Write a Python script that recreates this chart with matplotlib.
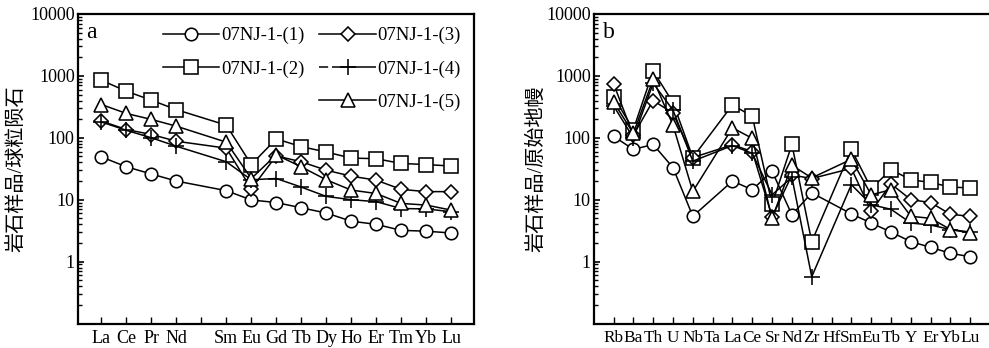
import matplotlib

matplotlib.use("Agg")
import matplotlib.pyplot as plt
from matplotlib.lines import Line2D
from matplotlib.ticker import LogLocator, NullFormatter, FixedLocator

# chondrite-normalised REE (panel a); Pm slot left empty
ree = ["La", "Ce", "Pr", "Nd", "", "Sm", "Eu", "Gd", "Tb", "Dy", "Ho", "Er", "Tm", "Yb", "Lu"]
ree_s1 = [49, 34, 26, 20, None, 14, 9.9, 9.0, 7.4, 6.1, 4.5, 4.0, 3.2, 3.1, 2.9]
ree_s2 = [850, 565, 405, 285, None, 160, 37, 96, 72, 59, 47, 46, 38.5, 37, 35]
ree_s3 = [186, 136, 113, 88, None, 68, 15, 51, 41, 30, 24, 20.7, 14.7, 13.5, 13.5]
ree_s4 = [180, 132, 100, 73, None, 41, 21, 22, 16, 11.3, 10, 9.3, 7.2, 7.1, 6.4]
ree_s5 = [345, 247, 198, 154, None, 85, 22, 53, 34, 21, 14.3, 12.6, 8.7, 8.2, 6.8]

# primitive-mantle-normalised trace elements (panel b); Ta, Hf not plotted
trace = ["Rb", "Ba", "Th", "U", "Nb", "Ta", "La", "Ce", "Sr", "Nd",
         "Zr", "Hf", "Sm", "Eu", "Tb", "Y", "Er", "Yb", "Lu"]
tr_s1 = [106, 65, 78, 33, 5.4, None, 20, 14.5, 28.8, 5.7, 12.9, None, 5.9, 4.2, 3.0, 2.1, 1.7, 1.36, 1.2]
tr_s2 = [460, 136, 1200, 370, 48, None, 340, 222, 8.5, 78, 2.1, None, 65, 15.2, 30.5, 21, 19, 16, 15.5]
tr_s3 = [750, 110, 400, 250, 48, None, 77, 60, 5.3, 25, 22, None, 32, 6.5, 18, 10, 9.0, 5.8, 5.4]
tr_s4 = [330, 100, 760, 280, 42, None, 75, 56, 12, 23, 0.57, None, 17.5, 8.3, 7.0, 4.2, 3.9, 3.3, 3.0]
tr_s5 = [380, 118, 880, 160, 13.6, None, 145, 98, 5.0, 36, 22.5, None, 45, 12, 14.5, 5.4, 5.0, 3.3, 2.9]

labels = ["07NJ-1-(1)", "07NJ-1-(2)", "07NJ-1-(3)", "07NJ-1-(4)", "07NJ-1-(5)"]
markers = [("o", 9), ("s", 9.5), ("D", 7), ("+", 11), ("^", 9.5)]

SERIF = ["Liberation Serif", "DejaVu Serif"]
CJK = ["Liberation Serif", "Noto Sans CJK SC"]
FS = 13

plt.rcParams["font.family"] = SERIF
plt.rcParams["font.size"] = FS


def draw(ax, series):
    for vals, (m, ms) in zip(series, markers):
        xs = [i for i, v in enumerate(vals) if v is not None]
        ys = [v for v in vals if v is not None]
        ax.plot(xs, ys, color="black", lw=1.1, marker=m, ms=ms,
                mfc="white", mec="black", mew=1.15, zorder=3)


def style(ax, names, xlim, ylabel, xfs, ylab_x):
    ax.set_yscale("log")
    ax.set_ylim(0.1, 10000)
    ax.set_xlim(*xlim)
    ax.yaxis.set_major_locator(FixedLocator([1, 10, 100, 1000, 10000]))
    ax.yaxis.set_minor_locator(LogLocator(base=10, subs=range(2, 10)))
    ax.yaxis.set_minor_formatter(NullFormatter())
    ax.set_yticklabels(["1", "10", "100", "1000", "10000"])
    ax.set_xticks(range(len(names)))
    ax.set_xticklabels(names)
    ax.tick_params(axis="y", which="major", direction="in", length=4, width=1.2, pad=2, labelsize=FS)
    ax.tick_params(axis="y", which="minor", direction="in", length=3, width=1.0)
    ax.tick_params(axis="x", which="major", direction="in", length=5, width=1.0, pad=5, labelsize=xfs)
    for s in ax.spines.values():
        s.set_linewidth(1.6)
    ax.set_ylabel(ylabel, family=CJK, fontsize=14.5)
    ax.yaxis.set_label_coords(ylab_x, 0.5)


fig = plt.figure(figsize=(9.89, 3.48), dpi=100)
ax1 = fig.add_axes([77.5 / 989, 1 - 323.5 / 348, (474 - 77.5) / 989, (323.5 - 14) / 348])
ax2 = fig.add_axes([593.5 / 989, 1 - 323.5 / 348, (1005 - 593.5) / 989, (323.5 - 14) / 348])

draw(ax1, [ree_s1, ree_s2, ree_s3, ree_s4, ree_s5])
style(ax1, ree, (-0.96, 14.92), "岩石样品/球粒陨石", FS, -0.127)
ax1.text(0.022, 0.975, "a", transform=ax1.transAxes, fontsize=17, va="top", ha="left")

draw(ax2, [tr_s1, tr_s2, tr_s3, tr_s4, tr_s5])
style(ax2, trace, (-1.01, 19.75), "岩石样品/原始地幔", 12.4, -0.115)
ax2.text(0.022, 0.975, "b", transform=ax2.transAxes, fontsize=17, va="top", ha="left")

# legend: two columns, first column has two entries
handles = []
for i, (m, ms) in enumerate(markers):
    h = Line2D([], [], color="black", lw=1.1, marker=m, ms=ms, mfc="white", mec="black", mew=1.15)
    if m == "+":
        h.set_dashes([6, 2.5, 60, 0])
    handles.append(h)
blank = Line2D([], [], linestyle="none", marker="none")
leg = ax1.legend([handles[0], handles[1], blank, handles[2], handles[3], handles[4]],
                 [labels[0], labels[1], "", labels[2], labels[3], labels[4]],
                 ncol=2, loc="upper right", bbox_to_anchor=(1.0, 1.0), frameon=False,
                 fontsize=13.5, handlelength=3.0, handletextpad=0.1, columnspacing=0.8,
                 labelspacing=0.84, borderaxespad=0.3)

fig.savefig("out.png", dpi=100)
